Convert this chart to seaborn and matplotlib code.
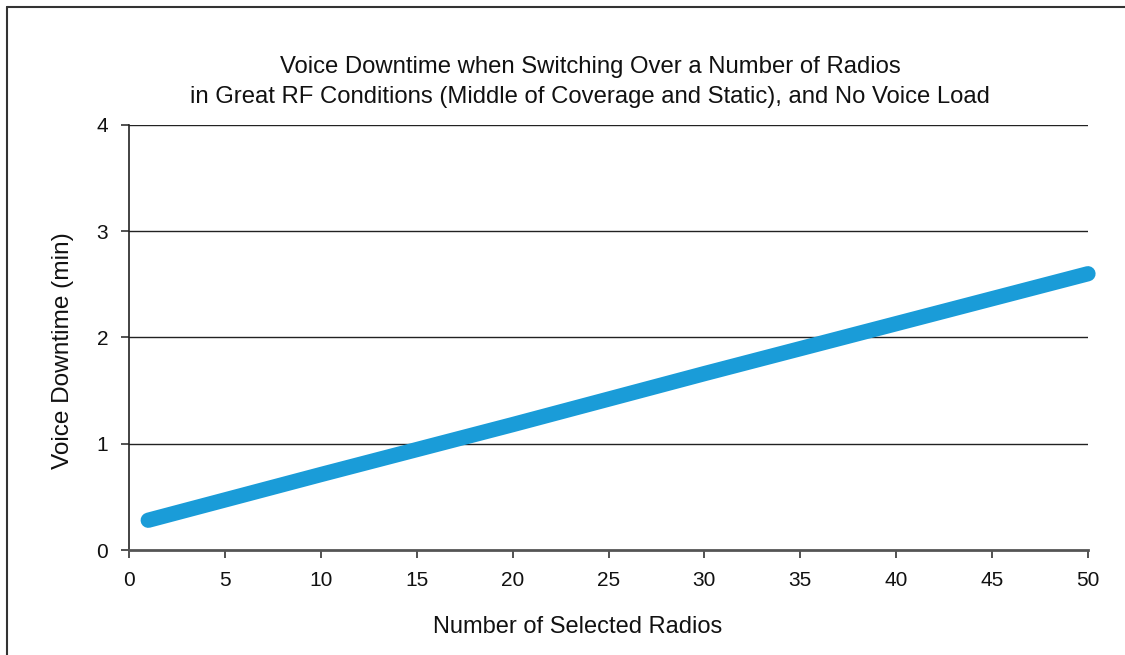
import matplotlib
matplotlib.use("Agg")
import matplotlib.pyplot as plt
from matplotlib.lines import Line2D
import seaborn as sns
import pandas as pd

radios = [1, 10, 20, 30, 40, 50]
downtime = [0.28, 0.71, 1.18, 1.66, 2.13, 2.60]
xticks = [0, 5, 10, 15, 20, 25, 30, 35, 40, 45, 50]
yticks = [0, 1, 2, 3, 4]

df = pd.DataFrame({"radios": radios, "downtime": downtime})

sns.set_theme(style="white")
plt.rcParams["font.family"] = ["Liberation Sans", "DejaVu Sans"]

fig = plt.figure(figsize=(11.25, 6.55), dpi=100)
ax = fig.add_axes([0.1147, 0.1603, 0.8524, 0.6489])

sns.lineplot(data=df, x="radios", y="downtime", color="#1a9cd8", linewidth=11,
             solid_capstyle="round", ax=ax, clip_on=False)

ax.set_xlim(0, 50)
ax.set_ylim(0, 4)
ax.set_xticks(xticks)
ax.set_yticks(yticks)
for y in yticks[1:]:
    ax.axhline(y, color="#222222", linewidth=1.0, zorder=0)

for s in ["top", "right"]:
    ax.spines[s].set_visible(False)
ax.spines["left"].set_color("#222222")
ax.spines["bottom"].set_color("#555555")
ax.spines["left"].set_linewidth(1.2)
ax.spines["bottom"].set_linewidth(2.0)
ax.tick_params(axis="both", direction="out", length=6, width=1.2, colors="#333333",
               labelsize=15, labelcolor="#111111", bottom=True, left=True)
ax.tick_params(axis="y", pad=9)
ax.tick_params(axis="x", pad=9)

ax.set_xlabel("Number of Selected Radios", fontsize=17, color="#111111", labelpad=20)
ax.xaxis.set_label_coords(0.468, -0.155)
ax.set_ylabel("Voice Downtime (min)", fontsize=17.6, color="#111111")
ax.yaxis.set_label_coords(-0.057, 0.468)
ax.set_title("Voice Downtime when Switching Over a Number of Radios\n"
             "in Great RF Conditions (Middle of Coverage and Static), and No Voice Load",
             fontsize=17.2, color="#111111", pad=16, linespacing=1.45, x=0.481)

# frame around the picture (left and top edges visible)
fig.add_artist(Line2D([0.0058, 0.0058], [0.0, 0.9893], transform=fig.transFigure,
                      color="#333333", linewidth=1.5))
fig.add_artist(Line2D([0.0058, 1.0], [0.9893, 0.9893], transform=fig.transFigure,
                      color="#333333", linewidth=1.5))

fig.savefig("out.png", dpi=100)
